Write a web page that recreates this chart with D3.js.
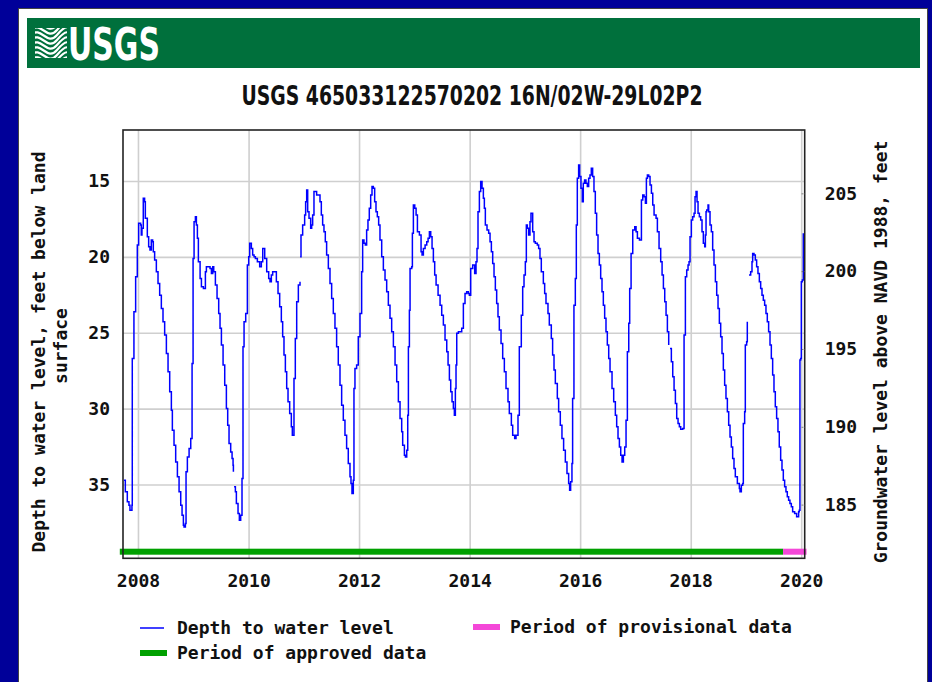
<!DOCTYPE html>
<html>
<head>
<meta charset="utf-8">
<script src="https://cdn.jsdelivr.net/npm/d3@7"></script>
<style>
    html, body { margin: 0; padding: 0; background: #000099; }
    svg { display: block; }
</style>
</head>
<body>
<svg id="chart"></svg>
<script>

// water level readings, decimal year / depth below land surface (ft); null = gap in record
const levelYear = [
    2007.747,2007.771,2007.807,2007.837,2007.855,2007.891,2007.897,2007.927,2007.958,2007.988,2008.012,2008.048,2008.060,2008.072,2008.096,2008.120,2008.133,2008.151,2008.169,2008.193,2008.217,2008.241,2008.265,2008.277,2008.301,2008.332,2008.362,2008.392,2008.422,2008.452,2008.482,2008.513,2008.543,2008.573,2008.603,2008.621,2008.651,2008.681,2008.712,2008.742,2008.772,2008.796,2008.820,2008.832,2008.856,2008.868,2008.892,2008.923,2008.953,2008.977,
    2008.995,2009.013,2009.037,2009.055,2009.073,2009.091,2009.122,2009.146,2009.182,2009.206,2009.218,2009.236,2009.266,2009.302,2009.327,2009.351,2009.369,2009.399,2009.429,2009.459,2009.483,2009.508,2009.538,2009.568,2009.598,2009.622,2009.646,2009.676,2009.701,2009.719,2009.725,2009.731,2009.737,2009.761,2009.779,2009.809,2009.833,2009.857,2009.881,
    2009.899,2009.918,2009.948,2009.978,2010.002,2010.020,2010.050,2010.074,2010.099,2010.123,2010.159,2010.201,2010.231,2010.256,2010.292,2010.328,2010.364,2010.388,2010.412,2010.436,2010.473,2010.503,2010.533,2010.563,2010.593,2010.617,2010.641,2010.666,2010.690,2010.714,2010.744,2010.774,2010.792,2010.810,2010.822,2010.846,2010.871,2010.901,2010.931,2010.932,
    2010.933,2010.949,2010.979,2011.015,2011.033,2011.052,2011.070,2011.094,2011.124,2011.142,2011.160,2011.184,2011.202,2011.232,2011.263,2011.293,2011.317,2011.341,2011.365,2011.389,2011.413,2011.444,2011.474,2011.504,2011.534,2011.564,2011.594,2011.624,2011.655,2011.685,2011.715,2011.745,2011.775,2011.805,2011.836,2011.854,2011.872,2011.896,2011.908,2011.926,2011.956,2011.986,
    2012.017,2012.047,2012.065,2012.089,2012.113,2012.137,2012.161,2012.185,2012.210,2012.234,2012.258,2012.282,2012.306,2012.330,2012.354,2012.378,2012.409,2012.439,2012.469,2012.499,2012.529,2012.559,2012.589,2012.620,2012.650,2012.680,2012.710,2012.740,2012.770,2012.788,2012.819,2012.837,2012.861,2012.879,2012.891,2012.909,2012.921,2012.951,2012.963,
    2012.981,2013.006,2013.030,2013.054,2013.090,2013.120,2013.138,2013.162,2013.193,2013.223,2013.247,2013.271,2013.295,2013.319,2013.343,2013.367,2013.392,2013.428,2013.464,2013.494,2013.524,2013.554,2013.585,2013.609,2013.633,2013.657,2013.681,2013.705,2013.723,2013.741,2013.753,2013.766,2013.796,2013.826,2013.856,2013.886,2013.916,2013.946,2013.976,2013.995,
    2014.019,2014.055,2014.091,2014.115,2014.133,2014.151,2014.176,2014.200,2014.224,2014.248,2014.266,2014.284,2014.314,2014.344,2014.369,2014.393,2014.417,2014.441,2014.465,2014.489,2014.513,2014.537,2014.568,2014.598,2014.628,2014.658,2014.694,2014.718,2014.755,2014.779,2014.815,2014.839,2014.875,2014.899,2014.935,2014.960,2014.984,2015.008,
    2015.026,2015.044,2015.068,2015.092,2015.110,2015.141,2015.165,2015.189,2015.225,2015.249,2015.273,2015.297,2015.334,2015.358,2015.382,2015.418,2015.442,2015.478,2015.502,2015.527,2015.551,2015.587,2015.611,2015.641,2015.671,2015.701,2015.732,2015.762,2015.792,2015.810,2015.828,2015.852,2015.864,2015.888,2015.913,2015.931,2015.949,2015.973,2015.991,
    2016.015,2016.039,2016.057,2016.081,2016.105,2016.130,2016.154,2016.178,2016.202,2016.226,2016.250,2016.274,2016.298,2016.323,2016.347,2016.371,2016.395,2016.419,2016.443,2016.467,2016.491,2016.516,2016.540,2016.576,2016.606,2016.636,2016.660,2016.684,2016.709,2016.733,2016.757,2016.781,2016.805,2016.829,2016.853,2016.878,2016.895,2016.920,2016.950,2016.986,
    2017.010,2017.034,2017.071,2017.095,2017.107,2017.131,2017.155,2017.179,2017.197,2017.215,2017.239,2017.263,2017.288,2017.312,2017.336,2017.372,2017.396,2017.426,2017.456,2017.481,2017.505,2017.529,2017.553,2017.577,2017.601,2017.613,2017.625,2017.649,2017.674,2017.698,2017.722,2017.746,2017.770,2017.794,2017.818,2017.855,2017.879,2017.903,2017.927,2017.951,2017.969,2017.987,
    2018.011,2018.035,2018.060,2018.078,2018.096,2018.114,2018.132,2018.156,2018.180,2018.204,2018.228,2018.253,2018.265,2018.277,2018.289,2018.313,2018.325,2018.349,2018.373,2018.397,2018.421,2018.446,2018.470,2018.494,2018.518,2018.542,2018.566,2018.590,2018.614,2018.638,2018.663,2018.687,2018.711,2018.735,2018.759,2018.783,2018.807,2018.844,2018.880,2018.892,2018.916,2018.940,2018.952,2018.976,2018.988,2019.012,2019.024,2019.040,
    2019.055,2019.085,2019.109,2019.121,2019.145,2019.169,2019.193,2019.217,2019.242,2019.266,2019.290,2019.314,2019.338,2019.362,2019.386,2019.410,2019.435,2019.459,2019.483,2019.507,2019.531,2019.555,2019.579,2019.603,2019.628,2019.652,2019.676,2019.700,2019.724,2019.748,2019.772,2019.796,2019.821,2019.845,2019.881,2019.917,2019.953,2019.965,2019.977,2019.990,2020.002,2020.020,2020.038
];
const levelDepth = [
    34.71,35.48,36.14,36.36,36.69,36.36,26.69,23.62,21.31,19.22,17.79,17.90,18.56,18.12,16.14,16.36,17.46,17.46,18.67,19.33,19.55,18.89,19.00,19.66,20.21,20.98,21.75,22.52,23.40,24.27,25.15,26.36,27.57,28.89,30.10,31.42,32.41,33.51,34.49,35.48,36.36,37.02,37.68,37.79,37.57,34.16,33.18,32.63,31.97,27.02,
    20.10,17.68,17.35,17.90,18.78,20.32,21.42,21.97,22.08,22.08,20.98,20.65,20.65,20.76,21.09,20.65,20.98,21.86,22.74,23.73,24.71,25.81,27.13,28.45,29.99,31.09,32.30,32.85,33.29,33.73,34.16,null,35.15,35.48,36.25,36.91,37.35,37.02,34.60,
    25.92,24.27,23.73,20.54,19.99,19.11,19.44,19.88,19.99,20.10,20.32,20.65,20.32,19.44,20.10,20.98,21.42,21.64,21.20,20.98,20.98,21.64,22.41,23.29,24.27,25.26,26.47,27.57,28.67,29.55,30.32,31.20,31.75,31.75,28.01,25.37,22.96,21.86,21.64,null,
    19.99,18.56,17.90,17.24,16.36,15.59,17.02,17.46,18.12,17.90,17.24,15.70,15.70,15.92,15.92,16.36,17.24,17.90,18.34,19.00,19.88,20.76,21.75,22.74,23.73,24.71,25.92,27.13,28.45,29.77,30.76,31.75,32.63,33.62,34.49,34.93,35.59,34.71,28.67,27.35,27.13,25.26,
    23.73,20.98,18.89,19.11,19.22,18.23,17.57,16.80,15.92,15.37,15.48,16.36,17.02,17.35,17.90,18.89,19.99,20.87,21.53,22.30,23.18,24.05,24.93,25.92,27.13,28.23,29.55,30.65,31.53,32.41,33.07,33.18,32.74,30.43,25.92,23.51,20.76,20.65,18.45,
    16.58,16.80,17.24,18.34,18.56,19.66,19.88,19.44,19.22,19.00,18.78,18.34,18.67,19.44,20.32,21.20,21.86,22.52,23.18,23.84,24.49,25.48,26.25,27.13,28.12,28.89,29.55,29.99,30.43,28.67,27.13,25.04,24.93,24.93,24.71,23.07,22.41,22.30,22.41,22.52,
    20.76,20.54,21.09,20.32,19.44,17.02,15.70,15.04,15.48,16.14,16.80,17.90,18.23,18.45,19.00,19.66,20.43,21.31,22.19,23.07,23.95,24.82,25.70,26.69,27.57,28.67,29.55,30.32,31.09,31.75,31.97,31.75,30.43,25.92,23.84,21.97,21.20,20.32,
    17.90,18.12,18.56,17.68,17.13,18.34,19.00,19.11,19.22,19.44,20.10,20.98,21.75,22.41,23.07,23.73,24.49,25.37,26.47,27.46,28.34,29.33,30.21,31.09,31.97,32.74,33.51,34.27,34.93,35.37,34.82,33.62,29.33,23.18,21.42,17.90,14.82,13.95,14.71,
    15.48,16.36,15.15,14.93,15.15,15.37,14.82,14.60,14.16,14.71,15.70,17.13,18.56,19.77,20.54,21.42,22.30,23.18,24.05,24.93,25.81,26.69,27.57,28.67,29.55,30.43,31.20,31.97,32.52,33.07,33.51,33.07,32.52,30.76,26.25,24.38,22.08,19.77,18.23,18.01,
    18.34,18.78,18.89,18.89,16.25,15.92,16.03,16.47,14.82,14.60,14.71,15.26,15.81,16.58,17.24,17.46,18.34,19.44,20.32,21.20,22.08,22.96,23.84,24.93,25.81,null,26.03,26.91,27.90,28.78,29.66,30.65,30.98,31.20,31.35,31.31,25.15,21.31,20.87,20.54,20.32,18.67,
    17.57,17.35,17.13,16.03,15.70,16.36,17.13,17.35,17.57,18.34,19.11,19.33,18.56,17.02,16.91,16.58,17.02,17.90,18.34,19.55,20.54,21.64,22.52,23.40,24.38,25.26,26.36,27.46,28.45,29.33,30.21,31.09,31.86,32.52,33.29,33.95,34.49,34.93,35.26,35.48,35.04,34.93,30.98,30.21,25.81,25.59,24.27,null,
    21.20,20.98,20.32,19.77,19.88,20.21,20.65,21.09,21.64,22.08,22.52,22.85,23.18,23.73,24.27,24.93,25.81,26.69,27.79,28.89,29.88,30.65,31.53,32.52,33.40,34.05,34.71,35.15,35.48,35.81,36.03,36.25,36.47,36.80,36.91,37.13,36.80,36.69,26.80,26.69,21.64,21.53,18.45
];

// data approval periods
const approvedPeriod = ["2007-09-03", "2019-09-03"];
const provisionalPeriod = ["2019-09-03", "2020-02-05"];

// axes
const depthTicks = [15, 20, 25, 30, 35];
const elevationTicks = [185, 190, 195, 200, 205];
const depthDomain = [11.64, 39.86];
const elevationDomain = [209.07, 181.55];
const timeDomain = [2007.729, 2020.063];

const titleText = "USGS 465033122570202 16N/02W-29L02P2";
const leftLabel = ["Depth to water level, feet below land", "surface"];
const rightLabel = "Groundwater level above NAVD 1988, feet";

class Hydrograph {

    constructor(_config) {
        this.config = {
            parentElement: _config.parentElement,
            containerWidth: _config.containerWidth || 932,
            containerHeight: _config.containerHeight || 682
        };
        this.config.plot = {left: 123, right: 804.7, top: 130, bottom: 558.3};
        this.initVis();
    }

    initVis() {
        let vis = this;
        let p = vis.config.plot;

        vis.svg = d3.select(vis.config.parentElement)
            .attr('width', vis.config.containerWidth)
            .attr('height', vis.config.containerHeight);

        vis.mono = "'DejaVu Sans Mono', 'Liberation Mono', monospace";

        vis.toDate = dy => {
            const y = Math.floor(dy);
            const s = new Date(y, 0, 1), e = new Date(y + 1, 0, 1);
            return new Date(+s + (dy - y) * (e - s));
        };
        vis.parse = d3.timeParse('%Y-%m-%d');

        vis.xScale = d3.scaleTime()
            .domain(timeDomain.map(vis.toDate))
            .range([p.left, p.right]);
        vis.yScale = d3.scaleLinear()
            .domain(depthDomain)
            .range([p.top, p.bottom]);
        vis.yScaleRight = d3.scaleLinear()
            .domain(elevationDomain)
            .range([p.top, p.bottom]);

        vis.data = levelYear.map((t, i) => ({date: vis.toDate(t), depth: levelDepth[i]}));

        vis.renderFrame();
        vis.render();
        vis.renderLegend();
    }

    renderFrame() {
        let vis = this;
        // white page + green USGS banner
        vis.svg.append('rect')
            .attr('x', 18.5).attr('y', 8.5)
            .attr('width', 909).attr('height', 700)
            .attr('fill', '#fff')
            .attr('stroke', '#444');

        vis.svg.append('rect')
            .attr('x', 27).attr('y', 18)
            .attr('width', 893).attr('height', 50)
            .attr('fill', '#00703c');

        let logo = vis.svg.append('g').attr('transform', 'translate(35,28)');
        logo.append('clipPath').attr('id', 'logoClip')
            .append('rect').attr('width', 32).attr('height', 30);
        let waves = logo.append('g').attr('clip-path', 'url(#logoClip)');
        d3.range(-3, 8).forEach(i => {
            waves.append('path')
                .attr('d', `M-4,${i * 5 + 2} C6,${i * 5 - 8} 12,${i * 5 + 14} 22,${i * 5 + 2} S34,${i * 5 - 6} 40,${i * 5}`)
                .attr('fill', 'none')
                .attr('stroke', '#fff')
                .attr('stroke-width', 2.2);
        });

        vis.svg.append('text')
            .attr('x', 68).attr('y', 60)
            .attr('fill', '#fff')
            .attr('font-family', "'Liberation Sans Narrow', 'Arial Narrow', 'DejaVu Sans Condensed', sans-serif")
            .attr('font-weight', 'bold')
            .attr('font-size', 45)
            .attr('textLength', 92)
            .attr('lengthAdjust', 'spacingAndGlyphs')
            .text('USGS');

        vis.svg.append('text')
            .attr('x', 472).attr('y', 105)
            .attr('text-anchor', 'middle')
            .attr('fill', '#111')
            .attr('font-family', "'Liberation Sans Narrow', 'Arial Narrow', 'DejaVu Sans Condensed', sans-serif")
            .attr('font-weight', 'bold')
            .attr('font-size', 27)
            .attr('textLength', 461)
            .attr('lengthAdjust', 'spacingAndGlyphs')
            .text(titleText);
    }

    render() {
        let vis = this;
        let p = vis.config.plot;
        let w = p.right - p.left, h = p.bottom - p.top;

        // grid
        let grid = vis.svg.append('g').attr('class', 'grid');
        grid.append('g')
            .attr('transform', `translate(${p.left},0)`)
            .call(d3.axisLeft(vis.yScale).tickValues(depthTicks).tickSize(-w).tickFormat(''));
        grid.append('g')
            .attr('transform', `translate(0,${p.bottom})`)
            .call(d3.axisBottom(vis.xScale).ticks(d3.timeYear.every(2)).tickSize(-h).tickFormat(''));
        grid.selectAll('.domain').remove();
        grid.selectAll('line').attr('stroke', '#cfcfcf').attr('stroke-width', 1.6);

        // approval period bars
        let bars = [
            {period: approvedPeriod, color: '#00a000'},
            {period: provisionalPeriod, color: '#f447d8'}
        ];
        vis.svg.append('g').selectAll('rect')
            .data(bars)
            .join('rect')
            .attr('x', d => vis.xScale(vis.parse(d.period[0])))
            .attr('width', d => vis.xScale(vis.parse(d.period[1])) - vis.xScale(vis.parse(d.period[0])))
            .attr('y', 548.7)
            .attr('height', 6)
            .attr('fill', d => d.color);

        // water level line (stepped, like the daily record)
        vis.svg.append('clipPath').attr('id', 'plotClip')
            .append('rect')
            .attr('x', p.left).attr('y', p.top)
            .attr('width', w).attr('height', h);

        let line = d3.line()
            .defined(d => d.depth !== null)
            .curve(d3.curveStepAfter)
            .x(d => vis.xScale(d.date))
            .y(d => vis.yScale(d.depth));

        vis.svg.append('path')
            .datum(vis.data)
            .attr('clip-path', 'url(#plotClip)')
            .attr('fill', 'none')
            .attr('stroke', '#0000ff')
            .attr('stroke-width', 1.5)
            .attr('d', line);

        // frame
        vis.svg.append('rect')
            .attr('x', p.left).attr('y', p.top)
            .attr('width', w).attr('height', h)
            .attr('fill', 'none')
            .attr('stroke', '#222')
            .attr('stroke-width', 1.6);

        // axes
        let yAxisG = vis.svg.append('g')
            .attr('transform', `translate(${p.left},0)`)
            .call(d3.axisLeft(vis.yScale).tickValues(depthTicks).tickSize(0).tickPadding(13));

        let yAxisRightG = vis.svg.append('g')
            .attr('transform', `translate(${p.right},0)`)
            .call(d3.axisRight(vis.yScaleRight).tickValues(elevationTicks).tickSize(-4).tickPadding(20));

        let xAxisG = vis.svg.append('g')
            .attr('transform', `translate(0,${p.bottom})`)
            .call(d3.axisBottom(vis.xScale).ticks(d3.timeYear.every(2)).tickFormat(d3.timeFormat('%Y')).tickSize(0).tickPadding(16));

        [yAxisG, yAxisRightG, xAxisG].forEach(g => {
            g.select('.domain').remove();
            g.selectAll('text')
                .attr('font-family', vis.mono)
                .attr('font-weight', 'bold')
                .attr('font-size', 18)
                .attr('fill', '#111');
        });
        yAxisRightG.selectAll('line').attr('stroke', '#555').attr('stroke-dasharray', '1,1');

        // axis titles
        let labels = vis.svg.append('g')
            .attr('font-family', vis.mono)
            .attr('font-weight', 'bold')
            .attr('font-size', 18)
            .attr('fill', '#111')
            .attr('text-anchor', 'middle');

        labels.append('text')
            .attr('transform', 'translate(44.5,352) rotate(-90)')
            .text(leftLabel[0]);
        labels.append('text')
            .attr('transform', 'translate(66.5,346) rotate(-90)')
            .text(leftLabel[1]);
        labels.append('text')
            .attr('transform', 'translate(887,352) rotate(-90)')
            .text(rightLabel);
    }

    renderLegend() {
        let vis = this;
        let items = [
            {label: 'Depth to water level', color: '#0000ff', x: 140, y: 628, thick: 1.5},
            {label: 'Period of provisional data', color: '#f447d8', x: 473, y: 627, thick: 6},
            {label: 'Period of approved data', color: '#00a000', x: 140, y: 653, thick: 6}
        ];
        let g = vis.svg.append('g').selectAll('g')
            .data(items)
            .join('g')
            .attr('transform', d => `translate(${d.x},${d.y})`);

        g.append('line')
            .attr('x1', 0).attr('x2', d => d.thick > 2 ? 27 : 24)
            .attr('stroke', d => d.color)
            .attr('stroke-width', d => d.thick);

        g.append('text')
            .attr('x', 37)
            .attr('y', 6)
            .attr('font-family', vis.mono)
            .attr('font-weight', 'bold')
            .attr('font-size', 18)
            .attr('fill', '#111')
            .text(d => d.label);
    }
}

new Hydrograph({parentElement: '#chart'});

</script>
</body>
</html>
